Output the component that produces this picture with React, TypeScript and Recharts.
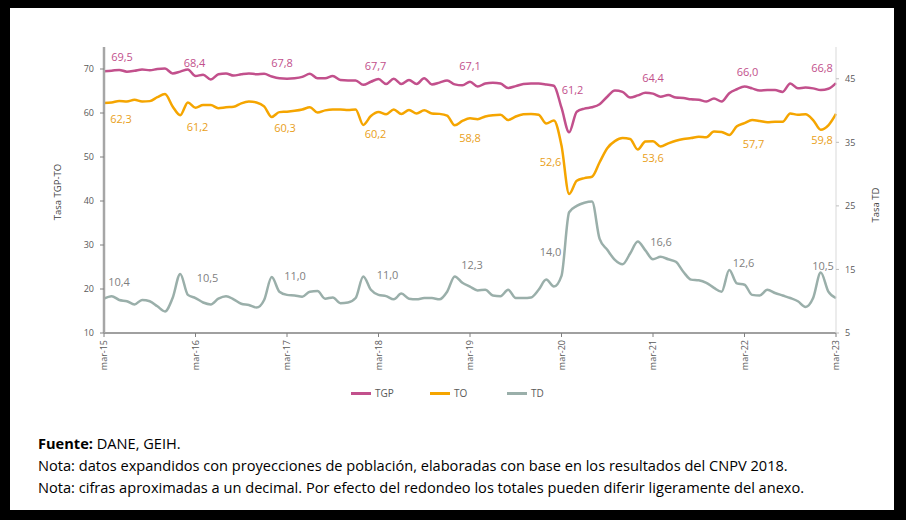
import React from 'react';
import { LineChart, Line, XAxis, YAxis, Legend, LabelList } from 'recharts';

const monthNames = ['mar', 'abr', 'may', 'jun', 'jul', 'ago', 'sep', 'oct', 'nov', 'dic', 'ene', 'feb'];
const categories: string[] = Array.from({ length: 97 }, (_, i) => `${monthNames[i % 12]}-${15 + Math.floor((i + 2) / 12)}`);

const tgp = [
  69.5, 69.6, 69.8, 69.4, 69.6, 69.9, 69.7, 70.0, 70.1, 69.0, 69.4, 69.9,
  68.4, 68.7, 67.6, 68.8, 69.0, 68.5, 68.8, 69.0, 68.8, 68.9, 68.3, 67.9,
  67.8, 67.9, 68.2, 68.9, 67.9, 67.9, 68.4, 67.5, 67.4, 67.4, 66.4, 67.1,
  67.7, 66.6, 67.8, 66.6, 67.5, 66.6, 67.9, 66.5, 66.9, 67.4, 66.5, 66.3,
  67.1, 66.0, 66.7, 66.9, 66.7, 65.7, 66.1, 66.6, 66.7, 66.7, 66.5, 66.2,
  61.2, 55.6, 60.3, 61.0, 61.3, 62.0, 63.7, 65.1, 64.8, 63.5, 64.0, 64.6,
  64.4, 63.7, 64.1, 63.5, 63.4, 63.1, 63.0, 62.6, 63.3, 62.6, 64.5, 65.4,
  66.0, 65.6, 65.1, 65.2, 65.2, 64.8, 66.7, 65.6, 65.8, 65.6, 65.2, 65.5,
  66.8,
];

const to = [
  62.3, 62.4, 62.7, 62.6, 63.0, 62.6, 62.7, 63.6, 64.3, 61.5, 59.5, 62.4,
  61.2, 61.8, 61.8, 61.1, 61.3, 61.4, 62.2, 62.6, 62.4, 61.5, 59.1, 60.2,
  60.3, 60.5, 60.8, 61.3, 60.1, 60.6, 60.8, 60.8, 60.7, 60.8, 57.3, 59.3,
  60.2, 59.7, 60.8, 59.8, 60.7, 59.9, 60.6, 59.9, 59.8, 59.4, 57.2, 58.2,
  58.8, 58.6, 59.2, 59.5, 59.6, 58.4, 59.2, 59.7, 59.8, 59.6, 57.6, 58.3,
  52.6, 41.6, 44.6, 45.2, 45.5, 48.8, 52.0, 53.6, 54.3, 54.1, 51.7, 53.5,
  53.6, 52.4, 53.1, 53.7, 54.1, 54.3, 54.6, 54.5, 55.8, 55.7, 55.0, 57.0,
  57.7, 58.4, 58.2, 57.9, 58.0, 58.0, 59.9, 59.6, 59.7, 58.4, 56.2, 57.2,
  59.8,
];

const td = [
  10.4, 10.8, 10.2, 10.0, 9.5, 10.2, 10.0, 9.2, 8.4, 10.5, 14.3, 11.0,
  10.5, 9.8, 9.5, 10.4, 10.8, 10.3, 9.6, 9.4, 9.0, 10.2, 13.8, 11.5,
  11.0, 10.9, 10.7, 11.5, 11.6, 10.4, 10.6, 9.7, 9.8, 10.5, 13.9, 11.8,
  11.0, 10.8, 10.3, 11.2, 10.4, 10.3, 10.5, 10.5, 10.3, 11.5, 13.9, 12.9,
  12.3, 11.7, 11.8, 10.9, 10.8, 11.8, 10.5, 10.5, 10.6, 11.8, 13.4, 12.3,
  14.0, 24.0, 25.0, 25.5, 25.7, 19.8, 18.1, 16.5, 15.8, 17.5, 19.4, 18.0,
  16.6, 17.0, 16.6, 16.2, 14.6, 13.4, 13.3, 12.9, 12.1, 11.5, 14.9, 12.8,
  12.6, 11.0, 10.9, 11.8, 11.3, 10.9, 10.5, 10.0, 9.1, 10.5, 14.5, 11.5,
  10.5,
];

const tgpLabels = ['69,5', '68,4', '67,8', '67,7', '67,1', '61,2', '64,4', '66,0', '66,8'];
const toLabels = ['62,3', '61,2', '60,3', '60,2', '58,8', '52,6', '53,6', '57,7', '59,8'];
const tdLabels = ['10,4', '10,5', '11,0', '11,0', '12,3', '14,0', '16,6', '12,6', '10,5'];

const leftTicks = [10, 20, 30, 40, 50, 60, 70];
const rightTicks = [5, 15, 25, 35, 45];

const data = categories.map((month, i) => ({ month, TGP: tgp[i], TO: to[i], TD: td[i] }));

const C_TGP = '#C2508C';
const C_TO = '#F5A500';
const C_TD = '#9AAFAA';
const FONT = '"Open Sans", sans-serif';

const tgpOff = { dx: [18, -1, -5, -3, 0, 11, 0, 3, -14], dy: [-15, -14, -16, -14, -16, -18, -16, -15, -16] };
const toOff = { dx: [17, 2, -2, -3, 0, -11, 0, 9, -14], dy: [16, 19, 16, 21, 19, 16, 16, 20, 26] };
const tdOff = { dx: [15, 12, 8, 9, 2, -11, 8, -1, -13], dy: [-17, -21, -19, -20, -22, -24, -18, -22, -33] };

const makeLabel = (texts: string[], off: { dx: number[]; dy: number[] }, color: string) => (props: any) => {
  const { x, y, index } = props;
  if (index == null || index % 12 !== 0) return <g />;
  const k = index / 12;
  return (
    <text
      x={Number(x) + off.dx[k]}
      y={Number(y) + off.dy[k]}
      textAnchor="middle"
      dominantBaseline="central"
      fill={color}
      fontSize={11}
      fontFamily={FONT}
    >
      {texts[k]}
    </text>
  );
};

const XTick = (props: any) => {
  const { x, y, payload } = props;
  const ax = x + 3;
  const ay = y + 1;
  return (
    <text x={ax} y={ay} transform={`rotate(-90 ${ax} ${ay})`} textAnchor="end" fontSize={9} fill="#595959" fontFamily={FONT}>
      {payload.value}
    </text>
  );
};

const LegendContent = () => {
  const items = [
    { name: 'TGP', color: C_TGP, w: 79 },
    { name: 'TO', color: C_TO, w: 77 },
    { name: 'TD', color: C_TD, w: 40 },
  ];
  return (
    <div style={{ height: 30, display: 'flex', justifyContent: 'center', alignItems: 'center', paddingRight: 8 }}>
      {items.map((it) => (
        <div key={it.name} style={{ width: it.w, display: 'flex', alignItems: 'center' }}>
          <div style={{ width: 20, height: 3, background: it.color, marginRight: 4 }} />
          <span style={{ fontSize: 10, color: '#595959', fontFamily: FONT }}>{it.name}</span>
        </div>
      ))}
    </div>
  );
};

export default function App() {
  return (
    <div style={{ position: 'absolute', left: 0, top: 0, width: 906, height: 520, background: '#000' }}>
      <div style={{ position: 'absolute', left: 10, top: 8, width: 884, height: 502, background: '#fff' }} />
      <div style={{ position: 'absolute', left: 0, top: 0 }}>
        <LineChart width={906} height={418} data={data} margin={{ top: 47, right: 0, bottom: 10, left: 0 }}>
          <XAxis
            dataKey="month"
            interval={11}
            tick={<XTick />}
            tickSize={4}
            height={45}
            axisLine={{ stroke: '#808080', strokeWidth: 1.5 }}
            tickLine={{ stroke: '#808080' }}
          />
          <YAxis
            yAxisId="left"
            orientation="left"
            width={104}
            domain={[10, 75]}
            ticks={leftTicks}
            tickSize={4}
            tickMargin={6}
            axisLine={{ stroke: '#A6A6A6', strokeWidth: 2.5 }}
            tickLine={{ stroke: '#808080' }}
            tick={{ fontSize: 9, fill: '#595959', fontFamily: FONT }}
            label={{
              content: () => (
                <text x={57} y={192} transform="rotate(-90 57 192)" textAnchor="middle" dominantBaseline="central" fontSize={9.5} fill="#404040" fontFamily={FONT}>
                  Tasa TGP-TO
                </text>
              ),
            }}
          />
          <YAxis
            yAxisId="right"
            orientation="right"
            width={70}
            domain={[5, 50]}
            ticks={rightTicks}
            tickSize={3}
            tickMargin={6}
            axisLine={{ stroke: '#D9D9D9', strokeWidth: 1 }}
            tickLine={{ stroke: '#BFBFBF' }}
            tick={{ fontSize: 9, fill: '#595959', fontFamily: FONT }}
            label={{
              content: () => (
                <text x={875} y={205} transform="rotate(-90 875 205)" textAnchor="middle" dominantBaseline="central" fontSize={9.5} fill="#404040" fontFamily={FONT}>
                  Tasa TD
                </text>
              ),
            }}
          />
          <Legend verticalAlign="bottom" height={30} content={<LegendContent />} />
          <Line yAxisId="left" type="monotone" dataKey="TGP" stroke={C_TGP} strokeWidth={2.5} dot={false} isAnimationActive={false}>
            <LabelList dataKey="TGP" content={makeLabel(tgpLabels, tgpOff, C_TGP)} />
          </Line>
          <Line yAxisId="left" type="monotone" dataKey="TO" stroke={C_TO} strokeWidth={2.5} dot={false} isAnimationActive={false}>
            <LabelList dataKey="TO" content={makeLabel(toLabels, toOff, '#E9A020')} />
          </Line>
          <Line yAxisId="right" type="monotone" dataKey="TD" stroke={C_TD} strokeWidth={2.5} dot={false} isAnimationActive={false}>
            <LabelList dataKey="TD" content={makeLabel(tdLabels, tdOff, '#7F7F7F')} />
          </Line>
        </LineChart>
      </div>
      <div style={{ position: 'absolute', left: 38, top: 432, fontFamily: FONT, fontSize: 14.6, lineHeight: '22px', color: '#000' }}>
        <div><b>Fuente:</b> DANE, GEIH.</div>
        <div>Nota: datos expandidos con proyecciones de población, elaboradas con base en los resultados del CNPV 2018.</div>
        <div>Nota: cifras aproximadas a un decimal. Por efecto del redondeo los totales pueden diferir ligeramente del anexo.</div>
      </div>
    </div>
  );
}
